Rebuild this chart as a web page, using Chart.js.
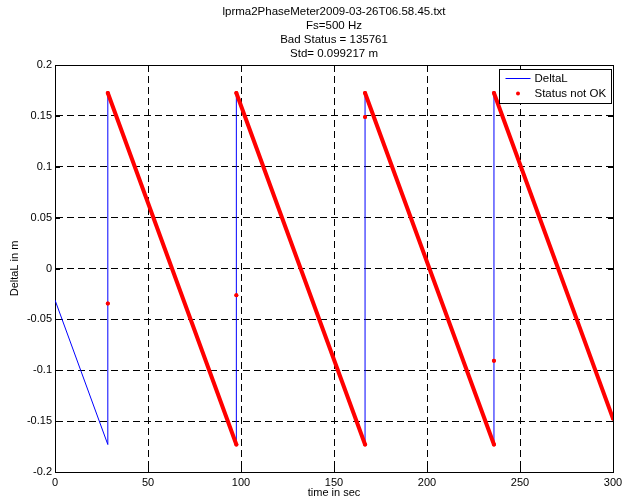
<!DOCTYPE html>
<html>
<head>
<meta charset="utf-8">
<script src="https://cdn.jsdelivr.net/npm/chart.js@4/dist/chart.umd.min.js"></script>
<style>
  body { margin: 0; background: #fff; }
  #wrap { width: 622px; height: 502px; }
</style>
</head>
<body>
<div id="wrap"><canvas id="phaseChart" width="622" height="502"></canvas></div>
<script>
const titleLines = [
    'lprma2PhaseMeter2009-03-26T06.58.45.txt',
    'Fs=500 Hz',
    'Bad Status = 135761',
    'Std= 0.099217 m'
];
const xTicks = [0, 50, 100, 150, 200, 250, 300];
const yTicks = [-0.2, -0.15, -0.1, -0.05, 0, 0.05, 0.1, 0.15, 0.2];

// DeltaL trace (sec, m)
const timeSec = [0, 28.4, 28.4, 97.5, 97.5, 166.7, 166.7, 236.0, 236.0, 300];
const deltaL = [-0.031, -0.173, 0.1725, -0.173, 0.1725, -0.173, 0.1725, -0.173, 0.1725, -0.1475];

// samples flagged "status not OK" (null breaks the run)
const badTime = [28.4, 28.4, 28.4, 97.5, 97.5, 97.5, 97.5, 97.5, 166.7, 166.7, 166.7, 166.7, 166.7, 236.0, 236.0, 236.0, 236.0, 236.0, 300];
const badDeltaL = [-0.0345, null, 0.1725, -0.173, null, -0.0263, null, 0.1725, -0.173, null, 0.149, null, 0.1725, -0.173, null, -0.0906, null, 0.1725, -0.1475];

const FONT = "'Liberation Sans', Arial, sans-serif";
Chart.defaults.color = '#000';
Chart.defaults.font.family = FONT;
Chart.defaults.font.size = 11;

const toPoints = (xs, ys) => xs.map((x, i) => ({ x: x, y: ys[i] }));

// axes box, inward ticks, title block and legend box
const matlabAxes = {
    id: 'matlabAxes',
    beforeDatasetsDraw(chart) {
        const { ctx, chartArea: a, scales } = chart;
        ctx.save();
        ctx.strokeStyle = '#000';
        ctx.lineWidth = 1;
        ctx.setLineDash([]);
        ctx.beginPath();
        xTicks.forEach(v => {
            const px = Math.round(scales.x.getPixelForValue(v)) + 0.5;
            ctx.moveTo(px, a.top); ctx.lineTo(px, a.top + 5);
            ctx.moveTo(px, a.bottom); ctx.lineTo(px, a.bottom - 5);
        });
        yTicks.forEach(v => {
            const py = Math.round(scales.y.getPixelForValue(v)) + 0.5;
            ctx.moveTo(a.left, py); ctx.lineTo(a.left + 5, py);
            ctx.moveTo(a.right, py); ctx.lineTo(a.right - 5, py);
        });
        ctx.stroke();
        ctx.strokeRect(Math.round(a.left) + 0.5, Math.round(a.top) + 0.5,
            Math.round(a.right - a.left), Math.round(a.bottom - a.top));
        ctx.restore();
    },
    afterDraw(chart) {
        const { ctx, chartArea: a } = chart;
        ctx.save();
        ctx.fillStyle = '#000';
        ctx.font = '11.5px ' + FONT;
        ctx.textAlign = 'center';
        ctx.textBaseline = 'middle';
        const cx = (a.left + a.right) / 2;
        titleLines.forEach((line, i) => ctx.fillText(line, cx, 12 + i * 14));

        // legend
        const ds = chart.data.datasets;
        const bx = Math.round(a.right - 114) + 0.5, by = Math.round(a.top + 4) + 0.5;
        const bw = 112, bh = 34;
        ctx.fillStyle = '#fff';
        ctx.fillRect(bx, by, bw, bh);
        ctx.strokeStyle = '#000';
        ctx.lineWidth = 1;
        ctx.strokeRect(bx, by, bw, bh);

        ctx.strokeStyle = ds[0].borderColor;
        ctx.beginPath();
        ctx.moveTo(bx + 6, by + 9);
        ctx.lineTo(bx + 31, by + 9);
        ctx.stroke();
        ctx.fillStyle = ds[1].pointBackgroundColor;
        ctx.beginPath();
        ctx.arc(bx + 18.5, by + 24, 2, 0, Math.PI * 2);
        ctx.fill();

        ctx.fillStyle = '#000';
        ctx.textAlign = 'left';
        ctx.fillText(ds[0].label, bx + 35, by + 9);
        ctx.fillText(ds[1].label, bx + 35, by + 24);
        ctx.restore();
    }
};

const ctx = document.getElementById('phaseChart').getContext('2d');

const data = {
    datasets: [{
        label: 'DeltaL',
        data: toPoints(timeSec, deltaL),
        showLine: true,
        borderColor: '#0000ff',
        borderWidth: 1,
        pointRadius: 0,
        order: 2
    }, {
        label: 'Status not OK',
        data: toPoints(badTime, badDeltaL),
        showLine: true,
        spanGaps: false,
        borderColor: '#ff0000',
        borderWidth: 4,
        borderCapStyle: 'round',
        pointRadius: 2,
        pointBorderWidth: 0,
        pointBackgroundColor: '#ff0000',
        order: 1
    }]
};

const gridStyle = { color: '#000', lineWidth: 1, drawTicks: false };
const borderStyle = { display: true, color: '#000', dash: [7, 4] };

const config = {
    type: 'scatter',
    data: data,
    options: {
        responsive: false,
        animation: false,
        layout: { padding: { top: 65, right: 9, left: 0, bottom: 0 } },
        plugins: {
            legend: { display: false },
            tooltip: { enabled: false },
            title: { display: false }
        },
        scales: {
            x: {
                type: 'linear',
                min: 0,
                max: 300,
                afterBuildTicks: s => { s.ticks = xTicks.map(v => ({ value: v })); },
                afterFit: s => { s.height = 30; s.paddingLeft = 0; s.paddingRight = 0; },
                grid: gridStyle,
                border: borderStyle,
                ticks: { padding: 4, maxRotation: 0, autoSkip: false, color: '#000' },
                title: { display: true, text: 'time in sec', padding: { top: 0, bottom: 2 }, color: '#000' }
            },
            y: {
                type: 'linear',
                min: -0.2,
                max: 0.2,
                afterBuildTicks: s => { s.ticks = yTicks.map(v => ({ value: v })); },
                afterFit: s => { s.width = 55; s.paddingTop = 0; s.paddingBottom = 0; },
                grid: gridStyle,
                border: borderStyle,
                ticks: {
                    padding: 3,
                    autoSkip: false,
                    color: '#000',
                    callback: v => String(+v.toFixed(2))
                },
                title: { display: true, text: 'DeltaL in m', padding: { top: 8, bottom: 0 }, color: '#000' }
            }
        }
    },
    plugins: [matlabAxes]
};

const phaseChart = new Chart(ctx, config);
</script>
</body>
</html>
